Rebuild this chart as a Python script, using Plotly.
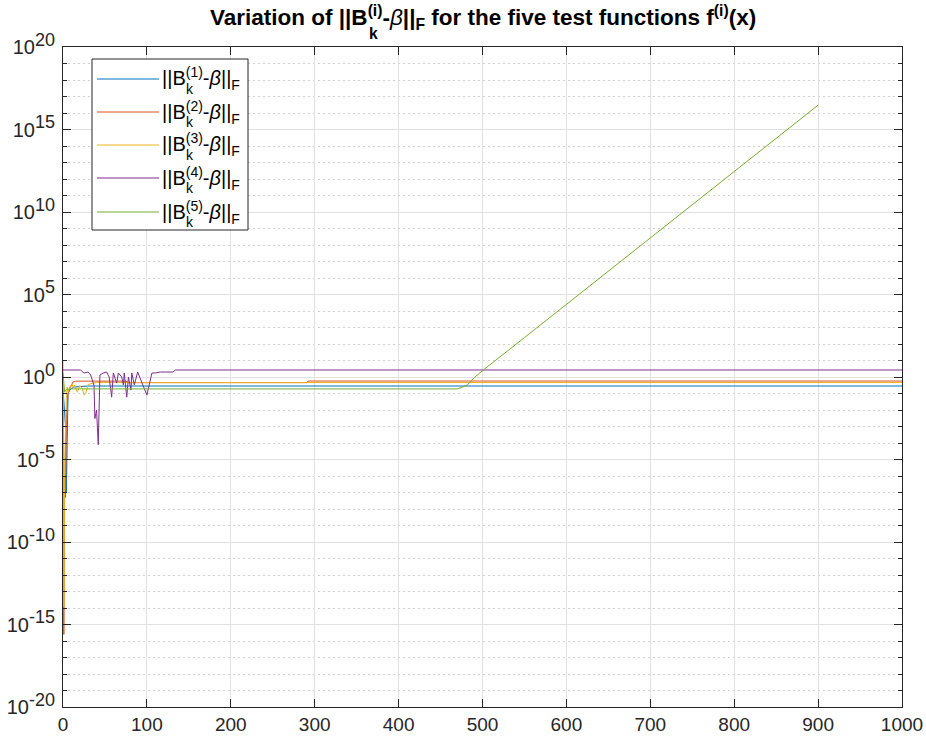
import plotly.graph_objects as go

# ---------------------------------------------------------------
# Iteration k and ||B_k^(i) - beta||_F for the five test functions
# ---------------------------------------------------------------
iter_f1 = [0, 1, 2, 3, 4, 5, 6, 8, 10, 14, 20, 30, 1000]
norm_f1 = [0.2, 0.03, 4e-3, 1e-3, 1e-7, 5e-3, 0.1, 0.16, 0.2, 0.25, 0.27, 0.285, 0.285]

iter_f2 = [0, 1, 2, 3, 4, 5, 6, 8, 10, 12, 15, 20, 75, 78, 291, 292, 1000]
norm_f2 = [0.4, 2.5e-16, 1e-6, 5e-8, 3e-3, 0.05, 0.1, 0.2, 0.35, 0.5, 0.55, 0.56,
           0.56, 0.455, 0.455, 0.57, 0.57]

iter_f3 = [0, 1, 2, 3, 4, 5, 6, 8, 11, 12, 14, 17, 20, 23, 25, 27, 30, 35, 40, 1000]
norm_f3 = [10.0, 1.2e-14, 1e-5, 3e-3, 0.05, 0.25, 0.12, 0.25, 0.38, 0.22, 0.33, 0.12,
           0.3, 0.2, 0.08, 0.1, 0.35, 0.42, 0.46, 0.46]

iter_f4 = [0, 21, 25, 30, 33, 37, 38, 40, 42, 44, 48, 52, 55, 58, 60, 64, 66, 70, 72,
           73, 76, 78, 81, 82, 85, 88, 89, 100, 104, 106, 110, 116, 131, 134, 1000]
norm_f4 = [2.66, 2.66, 1.75, 2.0, 1.32, 0.3, 3e-3, 1e-2, 8e-5, 1.32, 1.75, 2.0, 1.0,
           0.06, 1.75, 0.43, 1.75, 1.0, 0.33, 1.75, 0.06, 1.0, 0.16, 1.75, 0.33, 1.75,
           2.0, 0.08, 0.5, 1.75, 1.75, 2.0, 2.0, 2.66, 2.66]

iter_f5 = [0, 1, 2, 3, 5, 8, 470, 476, 482, 490, 501, 550, 600, 650, 700, 750, 800,
           850, 900]
norm_f5 = [1.75, 0.35, 0.12, 0.16, 0.18, 0.19, 0.19, 0.24, 0.33, 0.9, 2.66, 245.0,
           2.5e4, 2.6e6, 2.7e8, 2.8e10, 2.9e12, 2.9e14, 3.0e16]

series_iters = [iter_f1, iter_f2, iter_f3, iter_f4, iter_f5]
series_norms = [norm_f1, norm_f2, norm_f3, norm_f4, norm_f5]
series_labels = ["(1)", "(2)", "(3)", "(4)", "(5)"]
series_colors = ["#0072BD", "#D95319", "#EDB120", "#7E2F8E", "#77AC30"]

# axis ticks
x_tick_vals = [0, 100, 200, 300, 400, 500, 600, 700, 800, 900, 1000]
x_tick_text = ["0", "100", "200", "300", "400", "500", "600", "700", "800", "900", "1000"]
y_exponents = [-20, -15, -10, -5, 0, 5, 10, 15, 20]
y_minor_exponents = [e for e in range(-20, 21) if e % 5 != 0]

# ---------------------------------------------------------------
# figure geometry (pixels)
# ---------------------------------------------------------------
W, H = 926, 738
ML, MR, MT, MB = 63, 24, 47, 31
PW, PH = W - ML - MR, H - MT - MB
FONT = "Liberation Sans, Arial, Helvetica, sans-serif"
AXC = "#262626"


def px(x):
    return (x - ML) / PW


def py(y):
    return (H - MB - y) / PH


fig = go.Figure()
for its, vals, lab, col in zip(series_iters, series_norms, series_labels, series_colors):
    fig.add_trace(go.Scatter(
        x=its, y=vals, mode="lines", name=lab,
        line=dict(color=col, width=1), showlegend=False,
    ))

shapes = []
annotations = []

# legend box
lg_x0, lg_x1, lg_y0, lg_y1 = 92, 248, 59, 230
shapes.append(dict(type="rect", xref="paper", yref="paper",
                   x0=px(lg_x0), x1=px(lg_x1), y0=py(lg_y1), y1=py(lg_y0),
                   line=dict(color=AXC, width=1), fillcolor="white", layer="above"))
row_y = [79, 112, 145, 178, 212]
LGF = 20
for ry, lab, col in zip(row_y, series_labels, series_colors):
    shapes.append(dict(type="line", xref="paper", yref="paper",
                       x0=px(97), x1=px(159), y0=py(ry), y1=py(ry),
                       line=dict(color=col, width=1), layer="above"))
    annotations.append(dict(
        xref="paper", yref="paper", x=px(160), y=py(ry), xanchor="left",
        yanchor="middle", showarrow=False, yshift=0,
        text="||B<sup>" + lab + "</sup>-<i>β</i>||<sub>F</sub>",
        font=dict(family=FONT, size=LGF, color="black")))
    annotations.append(dict(
        xref="paper", yref="paper", x=px(160 + 1.187 * LGF), y=py(ry + 10),
        xanchor="left", yanchor="middle", showarrow=False,
        text="k", font=dict(family=FONT, size=LGF * 0.7, color="black")))

# title
TF = 22.5
t_left = 208
annotations.append(dict(
    xref="paper", yref="paper", x=px(t_left), y=py(17.5), xanchor="left",
    yanchor="middle", showarrow=False,
    text=("<b>Variation of ||B<sup>(i)</sup>-</b><i>β</i><b>||<sub>F</sub>"
          " for the five test functions f<sup>(i)</sup>(x)</b>"),
    font=dict(family=FONT, size=TF, color="black")))
annotations.append(dict(
    xref="paper", yref="paper", x=px(t_left + 7.061 * TF), y=py(33.5),
    xanchor="left", yanchor="middle", showarrow=False,
    text="<b>k</b>", font=dict(family=FONT, size=TF * 0.7, color="black")))

fig.update_layout(
    width=W, height=H,
    margin=dict(l=ML, r=MR, t=MT, b=MB, pad=0, autoexpand=False),
    paper_bgcolor="white", plot_bgcolor="white",
    font=dict(family=FONT, size=18, color=AXC),
    shapes=shapes, annotations=annotations,
    showlegend=False,
)

fig.update_xaxes(
    range=[0, 1000], tickmode="array", tickvals=x_tick_vals, ticktext=x_tick_text,
    ticks="inside", ticklen=8, tickwidth=1, tickcolor=AXC, automargin=False,
    showline=True, linecolor=AXC, linewidth=1, mirror="ticks",
    showgrid=True, gridcolor="#e1e1e1", gridwidth=1, zeroline=False,
    tickfont=dict(family=FONT, size=19, color=AXC),
)

fig.update_yaxes(
    type="log", range=[-20, 20], tickmode="array",
    tickvals=[10.0 ** e for e in y_exponents],
    ticktext=["10<sup><span style='font-size:18px'>%d</span></sup>" % e
              for e in y_exponents],
    ticks="inside", ticklen=8, tickwidth=1, tickcolor=AXC, automargin=False,
    ticklabelstandoff=3,
    showline=True, linecolor=AXC, linewidth=1, mirror="ticks",
    showgrid=True, gridcolor="#e1e1e1", gridwidth=1, zeroline=False,
    tickfont=dict(family=FONT, size=20, color=AXC),
    minor=dict(tickmode="array", tickvals=[10.0 ** e for e in y_minor_exponents],
               ticks="inside", ticklen=4, tickcolor=AXC,
               showgrid=True, gridcolor="#d2d2d2", griddash="2px,3px", gridwidth=1),
)

fig.write_html("out.html")
